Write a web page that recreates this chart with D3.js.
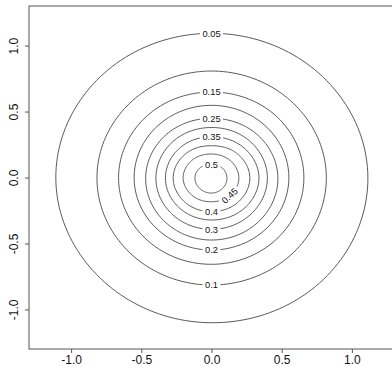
<!DOCTYPE html>
<html>
<head>
<meta charset="utf-8">
<script src="https://cdn.jsdelivr.net/npm/d3@7"></script>
<style>
  body { margin: 0; background: #fff; }
  svg { display: block; font-family: "Liberation Sans", Arial, sans-serif; }
</style>
</head>
<body>
<div id="chart"></div>
<script>
// contour levels, and for each level the distance of the line from (0,0)
// at the angles below (degrees, counter-clockwise from +x)
let levels = [0.05, 0.1, 0.15, 0.2, 0.25, 0.3, 0.35, 0.4, 0.45, 0.5];
let angles = [0, 45, 90, 135, 180, 225, 270, 315];
let radii = [
  [1.114, 1.100, 1.093, 1.100, 1.109, 1.100, 1.101, 1.110],
  [0.818, 0.810, 0.807, 0.810, 0.816, 0.815, 0.815, 0.815],
  [0.658, 0.655, 0.648, 0.655, 0.662, 0.660, 0.658, 0.658],
  [0.551, 0.548, 0.547, 0.548, 0.551, 0.550, 0.550, 0.550],
  [0.473, 0.460, 0.449, 0.458, 0.469, 0.472, 0.474, 0.474],
  [0.398, 0.388, 0.379, 0.387, 0.396, 0.395, 0.393, 0.395],
  [0.338, 0.322, 0.309, 0.318, 0.328, 0.325, 0.322, 0.330],
  [0.273, 0.257, 0.241, 0.257, 0.273, 0.266, 0.259, 0.266],
  [0.195, 0.185, 0.178, 0.190, 0.202, 0.193, 0.184, 0.190],
  [0.110, 0.105, 0.100, 0.109, 0.118, 0.118, 0.118, 0.114]
];
// where R put each label along its line (angle in degrees)
let labelAngles = [90, 270, 90, 270, 90, 270, 90, 270, 313, 90];
let tickValues = [-1.0, -0.5, 0.0, 0.5, 1.0];

let width = 392;
let height = 367;
let plotLeft = 29, plotTop = 6, plotRight = 394, plotBottom = 349;

let svg = d3.select("#chart")
    .append("svg")
    .attr("width", width)
    .attr("height", height);

let x = d3.scaleLinear().domain([-1.3, 1.3]).range([plotLeft, plotRight]);
let y = d3.scaleLinear().domain([-1.3, 1.3]).range([plotBottom, plotTop]);

let lineColor = "#474747";
let line = d3.line();

// smooth radius between the read angles (periodic catmull-rom on r(angle))
function radiusAt(row, deg)
{
  let n = angles.length;
  let a = ((deg % 360) + 360) % 360;
  let i = Math.floor(a / 45);
  let t = (a - i * 45) / 45;
  let p0 = row[(i - 1 + n) % n], p1 = row[i % n], p2 = row[(i + 1) % n], p3 = row[(i + 2) % n];
  return 0.5 * (2 * p1 + (-p0 + p2) * t + (2 * p0 - 5 * p1 + 4 * p2 - p3) * t * t + (-p0 + 3 * p1 - 3 * p2 + p3) * t * t * t);
}

let defs = svg.append("defs");
let contours = svg.append("g");
let labels = svg.append("g");

for (let k = 0; k < levels.length; k++)
{
  let row = radii[k];
  let pts = d3.range(0, 360, 2).map(a => {
    let r = radiusAt(row, a);
    let rad = a * Math.PI / 180;
    return [x(r * Math.cos(rad)), y(r * Math.sin(rad))];
  });
  pts.push(pts[0]);

  // label spot
  let la = labelAngles[k];
  let lr = radiusAt(row, la);
  let lrad = la * Math.PI / 180;
  let lx = x(lr * Math.cos(lrad));
  let ly = y(lr * Math.sin(lrad));
  let rot = ((la + 90) % 180 + 180) % 180;
  if (rot > 90) rot -= 180;
  rot = -rot;

  let txt = labels.append("text")
    .attr("transform", "translate(" + lx + "," + ly + ") rotate(" + rot + ")")
    .attr("text-anchor", "middle")
    .attr("dy", "0.35em")
    .attr("font-size", "9.3px")
    .attr("fill", "#111")
    .text(String(levels[k]));
  let tw = txt.node().getComputedTextLength();

  // cut a gap in the line where the label sits
  let mask = defs.append("mask").attr("id", "gap" + k);
  mask.append("rect")
    .attr("x", 0).attr("y", 0)
    .attr("width", width).attr("height", height)
    .attr("fill", "#fff");
  mask.append("rect")
    .attr("x", -tw / 2 - 2.5).attr("y", -4)
    .attr("width", tw + 5).attr("height", 8)
    .attr("transform", "translate(" + lx + "," + ly + ") rotate(" + rot + ")")
    .attr("fill", "#000");

  contours.append("path")
    .attr("d", line(pts))
    .attr("fill", "none")
    .attr("stroke", lineColor)
    .attr("stroke-width", 0.9)
    .attr("mask", "url(#gap" + k + ")");
}

// axes, R style
let fmt = d => d.toFixed(1);

let xAxis = svg.append("g")
  .attr("transform", "translate(0," + plotBottom + ")")
  .call(d3.axisBottom(x).tickValues(tickValues).tickFormat(fmt).tickSize(4).tickPadding(2.5));
xAxis.select(".domain").remove();
xAxis.selectAll("line").attr("stroke", "#555");
xAxis.selectAll("text")
  .attr("font-size", "12px")
  .attr("font-family", "Liberation Sans, Arial, sans-serif")
  .attr("fill", "#111");

let yAxis = svg.append("g")
  .attr("transform", "translate(" + plotLeft + ",0)")
  .call(d3.axisLeft(y).tickValues(tickValues).tickFormat(fmt).tickSize(4));
yAxis.select(".domain").remove();
yAxis.selectAll("line").attr("stroke", "#555");
yAxis.selectAll("text")
  .attr("transform", "rotate(-90)")
  .attr("text-anchor", "middle")
  .attr("x", 0)
  .attr("y", -11.5)
  .attr("dy", 0)
  .attr("font-size", "12px")
  .attr("font-family", "Liberation Sans, Arial, sans-serif")
  .attr("fill", "#111");

// box
svg.append("rect")
  .attr("x", plotLeft)
  .attr("y", plotTop)
  .attr("width", plotRight - plotLeft)
  .attr("height", plotBottom - plotTop)
  .attr("fill", "none")
  .attr("stroke", "#555")
  .attr("stroke-width", 1);
</script>
</body>
</html>
